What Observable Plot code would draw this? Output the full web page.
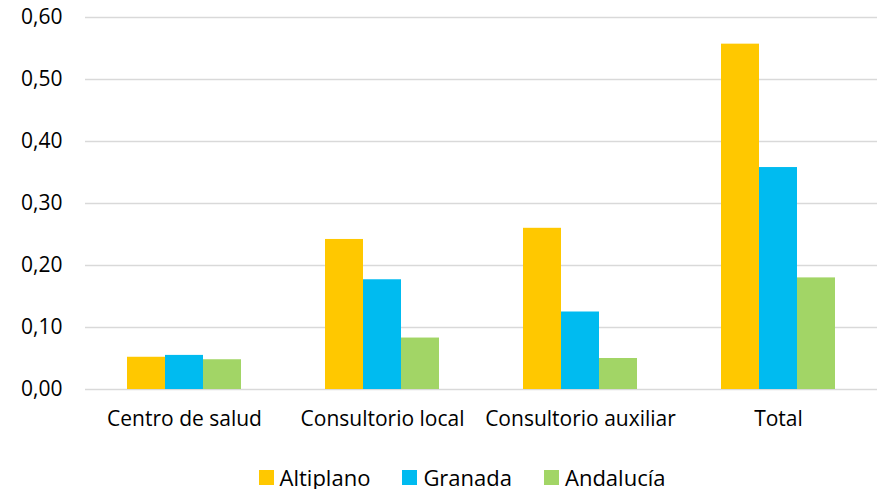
<!DOCTYPE html>
<html><head><meta charset="utf-8">
<script src="https://cdn.jsdelivr.net/npm/d3@7"></script>
<script src="https://cdn.jsdelivr.net/npm/@observablehq/plot@0.6"></script>
<style>
body{margin:0;background:#fff;font-family:"Open Sans",sans-serif;overflow:hidden}
#legend{display:flex;justify-content:center;gap:32px;font-size:22px;line-height:24px;height:24px;color:#000;margin-top:27px;padding-left:44px}
#legend span{display:inline-flex;align-items:center}
#legend i{display:inline-block;width:15px;height:15px;margin-right:6px}
</style></head>
<body>
<div id="chart"></div>
<div id="legend"></div>
<script>
const categories = ["Centro de salud", "Consultorio local", "Consultorio auxiliar", "Total"];
const series = ["Altiplano", "Granada", "Andalucía"];
const altiplano = [0.052, 0.242, 0.260, 0.557];
const granada = [0.055, 0.177, 0.125, 0.358];
const andalucia = [0.048, 0.083, 0.050, 0.180];
const colors = ["#FFC800", "#00BBF0", "#A2D566"];
const yTicks = [0, 0.1, 0.2, 0.3, 0.4, 0.5, 0.6];

const values = [altiplano, granada, andalucia];
const data = [];
categories.forEach((c, i) => series.forEach((s, j) => data.push({category: c, series: s, value: values[j][i]})));

const fmt = d => d.toFixed(2).replace(".", ",");

const chart = Plot.plot({
  width: 880, height: 438,
  marginTop: 17, marginLeft: 85, marginRight: 3, marginBottom: 49,
  style: {fontFamily: "Open Sans, sans-serif", fontSize: "21px", color: "#000"},
  fx: {domain: categories, padding: 0, label: null, tickSize: 0, tickPadding: 22},
  x: {domain: series, paddingInner: 0, paddingOuter: 1.07, axis: null},
  y: {domain: [0, 0.6], ticks: yTicks, tickFormat: fmt, label: null, tickSize: 0, tickPadding: 23},
  color: {domain: series, range: colors},
  marks: [
    Plot.ruleY(yTicks, {stroke: "#d9d9d9", strokeWidth: 1.5}),
    Plot.barY(data, {fx: "category", x: "series", y: "value", fill: "series", inset: 0}),
  ]
});
chart.style.display = "block";
document.getElementById("chart").appendChild(chart);

const lg = document.getElementById("legend");
series.forEach((s, i) => {
  const sp = document.createElement("span");
  sp.innerHTML = `<i style="background:${colors[i]}"></i>${s}`;
  lg.appendChild(sp);
});
</script>
</body></html>
